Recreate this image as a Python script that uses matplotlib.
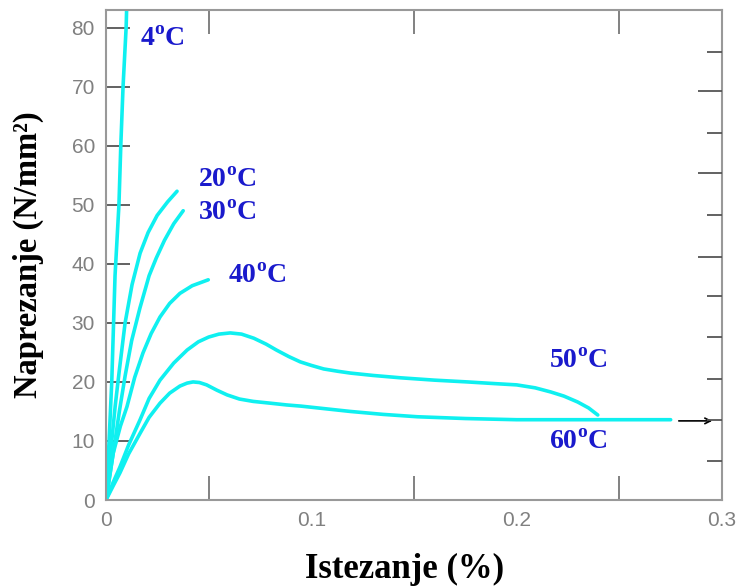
import matplotlib.pyplot as plt

plt.rcParams['mathtext.fontset'] = 'custom'
plt.rcParams['mathtext.rm'] = 'Liberation Serif:bold'
plt.rcParams['mathtext.bf'] = 'Liberation Serif:bold'

# strain (%) / stress (N/mm2)
strain_4 = [0, 0.0015, 0.0028, 0.0044, 0.0063, 0.0072, 0.0083, 0.0098, 0.0102]
stress_4 = [0, 10, 20, 38, 50, 60, 70, 80, 85]

strain_20 = [0, 0.0012, 0.0028, 0.0045, 0.0065, 0.0093, 0.0127, 0.0166, 0.0205, 0.0249, 0.03, 0.0346]
stress_20 = [0, 5, 10, 16, 22, 30, 36.5, 41.8, 45.3, 48.2, 50.5, 52.3]

strain_30 = [0, 0.002, 0.0044, 0.0065, 0.0093, 0.0125, 0.0165, 0.0210, 0.0245, 0.0285, 0.033, 0.0376]
stress_30 = [0, 4.5, 10, 15, 21, 27, 32.5, 38, 41, 44, 46.8, 49]

strain_40 = [0, 0.0035, 0.007, 0.0102, 0.014, 0.018, 0.022, 0.0263, 0.031, 0.036, 0.042, 0.0498]
stress_40 = [0, 7.9, 12.5, 15.8, 20.8, 24.9, 28.2, 31, 33.3, 35, 36.3, 37.3]

strain_50 = [0, 0.0035, 0.0068, 0.011, 0.0166, 0.021, 0.0263, 0.033, 0.0395, 0.045, 0.05, 0.055,
             0.0605, 0.066, 0.072, 0.078, 0.083, 0.089, 0.0946, 0.1, 0.106, 0.113, 0.119, 0.13,
             0.1434, 0.16, 0.176, 0.19, 0.2, 0.209, 0.2166, 0.223, 0.2297, 0.235, 0.2395]
stress_50 = [0, 3, 5.6, 9.3, 13.6, 17.2, 20.3, 23.2, 25.4, 26.8, 27.6, 28.1,
             28.3, 28.1, 27.4, 26.4, 25.4, 24.3, 23.4, 22.8, 22.2, 21.8, 21.5, 21.1,
             20.7, 20.3, 20.0, 19.7, 19.5, 19.0, 18.3, 17.6, 16.6, 15.6, 14.4]

strain_60 = [0, 0.0035, 0.0068, 0.011, 0.0166, 0.021, 0.0263, 0.031, 0.036, 0.0395, 0.0424,
             0.0455, 0.049, 0.054, 0.059, 0.065, 0.0717, 0.08, 0.088, 0.095, 0.103, 0.111,
             0.119, 0.135, 0.1517, 0.175, 0.2, 0.24, 0.275]
stress_60 = [0, 2.4, 4.6, 7.8, 11.3, 14, 16.4, 18.1, 19.3, 19.8, 20.0,
             19.9, 19.5, 18.6, 17.8, 17.1, 16.7, 16.4, 16.1, 15.9, 15.6, 15.3,
             15.0, 14.5, 14.1, 13.8, 13.6, 13.6, 13.6]

curves = [(strain_4, stress_4), (strain_20, stress_20), (strain_30, stress_30),
          (strain_40, stress_40), (strain_50, stress_50), (strain_60, stress_60)]

labels = ['4', '20', '30', '40', '50', '60']
label_x = [0.0166, 0.0449, 0.0449, 0.0595, 0.2156, 0.2156]
label_y = [78, 54.2, 48.6, 37.8, 23.4, 9.7]

x_ticks = [0, 0.1, 0.2, 0.3]
y_ticks = [0, 10, 20, 30, 40, 50, 60, 70, 80]
right_major = [41.2, 55.4, 69.2]
right_minor = [6.6, 13.6, 20.5, 27.6, 34.6, 48.3, 62.2, 75.9]

cyan = '#0ff0f0'
blue = '#1a1acc'
grey = '#999999'

fig = plt.figure(figsize=(7.41, 5.87), dpi=100)
ax = fig.add_axes([106 / 741, 87 / 587, 616 / 741, 490 / 587])

for xs, ys in curves:
    ax.plot(xs, ys, color=cyan, lw=2.6, solid_capstyle='round', solid_joinstyle='round')

ax.annotate('', xy=(0.2966, 13.4), xytext=(0.2776, 13.4),
            arrowprops=dict(arrowstyle='->', color='black', lw=1.2))

for t, x, y in zip(labels, label_x, label_y):
    ax.text(x, y, t + r'$^\mathrm{o}$C', color=blue, fontsize=20,
            family='Liberation Serif', weight='bold', ha='left', va='center')

ax.set_xlim(0, 0.3)
ax.set_ylim(0, 83)
ax.set_xticks(x_ticks)
ax.set_xticklabels(['0', '0.1', '0.2', '0.3'])
ax.set_xticks([0.05, 0.1, 0.15, 0.2, 0.25], minor=True)
ax.set_yticks(y_ticks)

for s in ax.spines.values():
    s.set_color(grey)
    s.set_linewidth(1.5)

ax.tick_params(axis='both', which='major', direction='in', length=17, width=1.3,
               color='#555555', labelcolor='#808080', labelsize=15, pad=8)
ax.tick_params(axis='x', which='major', length=0)
ax.tick_params(axis='x', which='minor', direction='in', length=17, width=1.3,
               color='#777777', top=True, bottom=True)
for lab in ax.get_xticklabels() + ax.get_yticklabels():
    lab.set_family('Liberation Sans')

axr = ax.twinx()
axr.set_ylim(0, 83)
axr.set_yticks(right_major)
axr.set_yticks(right_minor, minor=True)
axr.tick_params(which='major', direction='in', length=17, width=1.3, color='#555555',
                labelright=False)
axr.tick_params(which='minor', direction='in', length=11, width=1.3, color='#555555')
for s in axr.spines.values():
    s.set_visible(False)

fig.text(28 / 741, 1 - 255 / 587, 'Naprezanje (N/mm\u00b2)', rotation=90,
         ha='center', va='center', fontsize=23.5, family='Liberation Serif', weight='bold')
fig.text(405 / 741, 1 - 569 / 587, 'Istezanje (%)', ha='center', va='center',
         fontsize=25, family='Liberation Serif', weight='bold')

fig.savefig('out.png', dpi=100)
